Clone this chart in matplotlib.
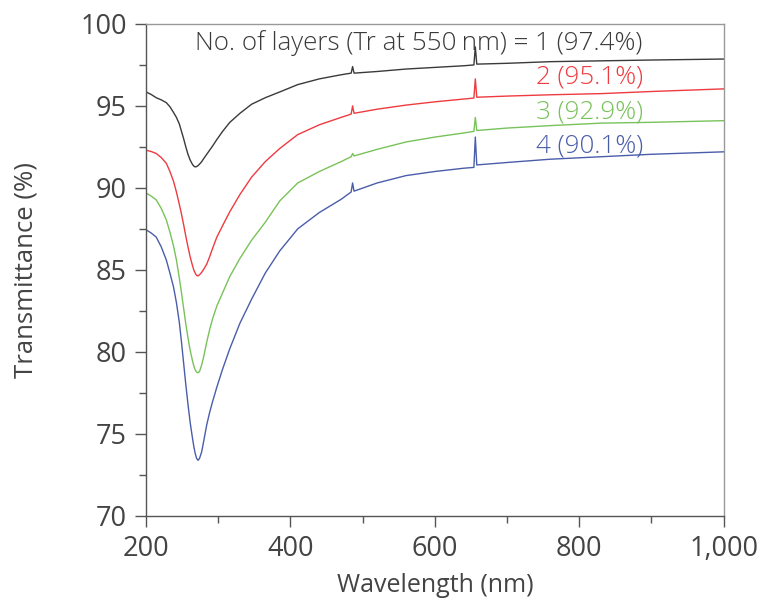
import matplotlib
matplotlib.use("Agg")
import matplotlib.pyplot as plt
from matplotlib.ticker import MultipleLocator, FuncFormatter

wavelength = [200, 207, 214, 221, 228, 233, 238, 242, 246, 249, 252, 255, 258, 261, 264,
              266, 268, 270, 272, 274, 277, 280, 284, 288, 292, 298, 306, 316, 330, 346,
              365, 385, 410, 440, 470, 484, 486, 488, 520, 560, 600, 640, 654, 656, 658,
              700, 760, 830, 900, 1000]

tr_1 = [95.85, 95.7, 95.5, 95.37, 95.2, 94.95, 94.6, 94.3, 93.9, 93.45, 93.0, 92.5, 92.05, 91.7, 91.45,
        91.33, 91.28, 91.3, 91.36, 91.45, 91.6, 91.8, 92.05, 92.3, 92.55, 92.95, 93.45, 94.0, 94.55, 95.1,
        95.5, 95.85, 96.3, 96.65, 96.9, 97.0, 97.4, 97.0, 97.1, 97.25, 97.35, 97.45, 97.5, 98.6, 97.55,
        97.6, 97.7, 97.75, 97.8, 97.86]
tr_2 = [92.3, 92.22, 92.1, 91.85, 91.5, 91.0, 90.4, 89.75, 89.0, 88.4, 87.75, 87.05, 86.4, 85.8, 85.3,
        85.0, 84.8, 84.66, 84.63, 84.7, 84.85, 85.05, 85.35, 85.8, 86.3, 87.0, 87.7, 88.55, 89.6, 90.65,
        91.6, 92.4, 93.25, 93.85, 94.3, 94.5, 95.0, 94.55, 94.8, 95.05, 95.25, 95.42, 95.48, 96.65, 95.53,
        95.6, 95.68, 95.75, 95.88, 96.04]
tr_3 = [89.68, 89.5, 89.27, 88.75, 88.05, 87.3, 86.45, 85.6, 84.5, 83.6, 82.65, 81.7, 80.85, 80.1, 79.5,
        79.15, 78.9, 78.76, 78.72, 78.8, 79.2, 79.75, 80.6, 81.35, 82.0, 82.8, 83.6, 84.6, 85.7, 86.8,
        87.9, 89.2, 90.3, 91.0, 91.6, 91.9, 92.1, 91.95, 92.35, 92.8, 93.1, 93.35, 93.45, 94.3, 93.5,
        93.65, 93.8, 93.95, 94.0, 94.1]
tr_4 = [87.44, 87.25, 87.0, 86.4, 85.6, 84.8, 83.95, 83.0, 81.8, 80.6, 79.3, 78.0, 76.8, 75.7, 74.8,
        74.25, 73.8, 73.5, 73.38, 73.5, 73.9, 74.6, 75.55, 76.3, 76.95, 77.85, 78.95, 80.2, 81.75, 83.2,
        84.8, 86.15, 87.5, 88.5, 89.3, 89.75, 90.3, 89.8, 90.3, 90.75, 91.0, 91.2, 91.25, 93.1, 91.4,
        91.55, 91.75, 91.9, 92.05, 92.2]

series = [tr_1, tr_2, tr_3, tr_4]
labels = ["No. of layers (Tr at 550\u2009nm) = 1 (97.4%)", "2 (95.1%)", "3 (92.9%)", "4 (90.1%)"]
label_y = [98.85, 96.75, 94.65, 92.55]
colors = ["#3a3a3a", "#ee3b40", "#78c25a", "#4a5daa"]

plt.rcParams['font.family'] = ['Open Sans', 'DejaVu Sans']
text_color = "#444444"

fig = plt.figure(figsize=(7.57, 5.99), dpi=100)
ax = fig.add_axes([0.193, 0.139, 0.763, 0.821])

for vals, c in zip(series, colors):
    ax.plot(wavelength, vals, color=c, lw=1.0)

for lab, y, c in zip(labels, label_y, colors):
    ax.text(888, y, lab, color=c, fontsize=18.7, ha='right', va='center', fontweight='light')

ax.set_xlim(200, 1000)
ax.set_ylim(70, 100)
ax.xaxis.set_major_locator(MultipleLocator(200))
ax.xaxis.set_minor_locator(MultipleLocator(100))
ax.yaxis.set_major_locator(MultipleLocator(5))
ax.yaxis.set_minor_locator(MultipleLocator(2.5))
ax.xaxis.set_major_formatter(FuncFormatter(lambda v, p: f"{int(v):,}"))
ax.yaxis.set_major_formatter(FuncFormatter(lambda v, p: f"{int(v)}"))

ax.tick_params(which='both', direction='out', colors='#555555', labelcolor=text_color,
               labelsize=19.5, width=1.0, top=False, right=False)
ax.tick_params(which='major', length=8, pad=6)
ax.tick_params(which='minor', length=5)

for s in ['left', 'bottom']:
    ax.spines[s].set_color('#555555')
    ax.spines[s].set_linewidth(1.0)
for s in ['top', 'right']:
    ax.spines[s].set_color('#999999')
    ax.spines[s].set_linewidth(1.0)

ax.set_xlabel("Wavelength (nm)", fontsize=18, color=text_color, labelpad=7)
ax.set_ylabel("Transmittance (%)", fontsize=18.5, color=text_color, labelpad=30)

fig.savefig("out.png", dpi=100)
